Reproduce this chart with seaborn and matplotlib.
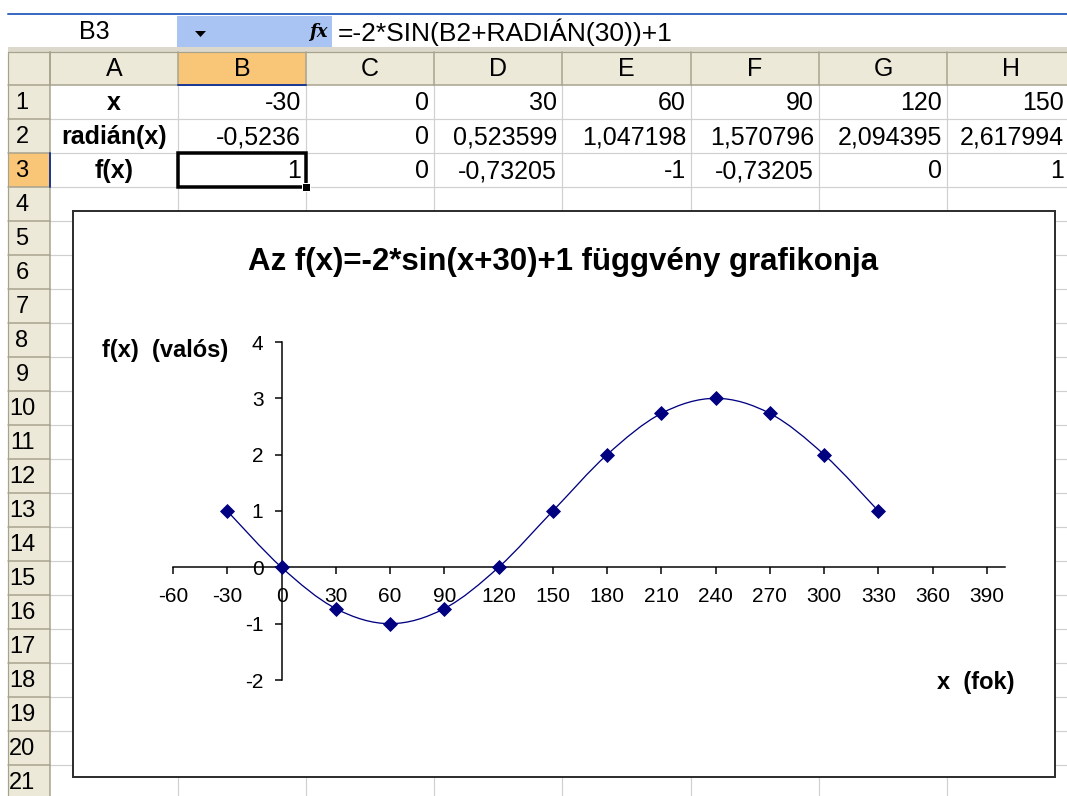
import numpy as np
import matplotlib
matplotlib.use("Agg")
import matplotlib.pyplot as plt
import seaborn as sns
from matplotlib.path import Path
from matplotlib.patches import PathPatch, Rectangle, Polygon

# ---------------- data ----------------
x_deg = [-30, 0, 30, 60, 90, 120, 150, 180, 210, 240, 270, 300, 330]
f_vals = [1, 0, -0.73205, -1, -0.73205, 0, 1, 2, 2.73205, 3, 2.73205, 2, 1]
x_ticks = [-60, -30, 0, 30, 60, 90, 120, 150, 180, 210, 240, 270, 300, 330, 360, 390]
y_ticks = [-2, -1, 0, 1, 2, 3, 4]
col_letters = ["A", "B", "C", "D", "E", "F", "G", "H"]
row_labels = ["x", "radián(x)", "f(x)"]
row1_cells = ["-30", "0", "30", "60", "90", "120", "150"]
row2_cells = ["-0,5236", "0", "0,523599", "1,047198", "1,570796", "2,094395", "2,617994"]
row3_cells = ["1", "0", "-0,73205", "-1", "-0,73205", "0", "1"]
title = "Az f(x)=-2*sin(x+30)+1 függvény grafikonja"
ylabel = "f(x)  (valós)"
xlabel = "x  (fok)"
name_box = "B3"
formula = "=-2*SIN(B2+RADIÁN(30))+1"

# ---------------- style ----------------
sns.set_theme(style="white")
plt.rcParams['font.family'] = ['Liberation Sans', 'DejaVu Sans']
plt.rcParams['text.color'] = 'black'

W, H = 1067, 796
fig = plt.figure(figsize=(W / 100, H / 100), dpi=100)
fig.patch.set_facecolor("white")

PX = 0.72  # points per pixel
HDR = "#ECE9D8"
HDR_LINE = "#A7A28C"
GRID = "#D0D0D0"
ORANGE = "#F9C678"
NAVY = "#000080"

bg = fig.add_axes([0, 0, 1, 1])
bg.set_xlim(0, W)
bg.set_ylim(H, 0)
bg.axis("off")
bg.set_zorder(0)

col_x = [50, 178, 306, 434, 562, 691, 819, 947, 1075]
row_y = [85 + 34 * k for k in range(22)]

# formula bar
bg.plot([8, W], [14, 14], color="#3D6BC2", lw=2 * PX)
bg.add_patch(Rectangle((177, 15.5), 155, 31, fc="#A9C4F3", ec="none"))
bg.add_patch(Polygon([(195, 31), (206, 31), (200.5, 37)], closed=True, fc="black", ec="none"))
bg.text(318, 32, "fx", ha="center", va="center", fontsize=13, style="italic",
        fontweight="bold", family="DejaVu Serif", color="black")
bg.text(94, 32, name_box, ha="center", va="center", fontsize=18, color="black")
bg.text(338, 32, formula, ha="left", va="center", fontsize=19, color="black")
bg.add_patch(Rectangle((8, 47), W - 8, 5, fc="#DCD8CC", ec="none"))

# headers
bg.add_patch(Rectangle((8, 52), 42, H - 52, fc=HDR, ec="none"))
bg.add_patch(Rectangle((50, 52), W - 50, 33, fc=HDR, ec="none"))
bg.add_patch(Rectangle((178, 52), 128, 33, fc=ORANGE, ec="none"))
bg.add_patch(Rectangle((8, row_y[2]), 42, 34, fc=ORANGE, ec="none"))

# grid lines
for cx in col_x[1:]:
    bg.plot([cx, cx], [85, H], color=GRID, lw=1.2 * PX)
for ry in row_y[1:]:
    bg.plot([50, W], [ry, ry], color=GRID, lw=1.2 * PX)

# header separators
for cx in col_x:
    bg.plot([cx, cx], [52, 85], color=HDR_LINE, lw=1.5 * PX)
bg.plot([8, W], [52, 52], color=HDR_LINE, lw=1.2 * PX)
bg.plot([8, W], [85, 85], color=HDR_LINE, lw=1.5 * PX)
for ry in row_y[1:]:
    bg.plot([8, 50], [ry, ry], color=HDR_LINE, lw=1.5 * PX)
bg.plot([50, 50], [52, H], color=HDR_LINE, lw=1.5 * PX)
bg.plot([8, 8], [52, H], color=HDR_LINE, lw=1.2 * PX)

# selection accents
bg.plot([178, 306], [85, 85], color="#1F3A93", lw=2 * PX)
bg.plot([50, 50], [row_y[2], row_y[3]], color="#1F3A93", lw=2 * PX)

# column letters and row numbers
for i, letter in enumerate(col_letters):
    bg.text((col_x[i] + col_x[i + 1]) / 2, 69, letter, ha="center", va="center", fontsize=18)
for k in range(21):
    bg.text(22, (row_y[k] + row_y[k + 1]) / 2 + 1, str(k + 1), ha="center", va="center", fontsize=17)

# cells (last column kept just inside the picture edge)
right_edges = [col_x[c + 2] - 5 for c in range(6)] + [W - 3]
for r, (lab, cells) in enumerate(zip(row_labels, [row1_cells, row2_cells, row3_cells])):
    cy = (row_y[r] + row_y[r + 1]) / 2 + 1
    bg.text((col_x[0] + col_x[1]) / 2, cy, lab, ha="center", va="center", fontsize=18,
            fontweight="bold")
    for c, val in enumerate(cells):
        bg.text(right_edges[c], cy, val, ha="right", va="center", fontsize=18)

# selected cell border + fill handle
bg.add_patch(Rectangle((178, row_y[2]), 128, 34, fill=False, ec="black", lw=3.5 * PX, zorder=3))
bg.add_patch(Rectangle((302, row_y[3] - 4), 8, 8, fc="black", ec="white", lw=1 * PX, zorder=3))

# chart box
bg.add_patch(Rectangle((73, 211), 982, 566, fc="white", ec="#303030", lw=2 * PX, zorder=4))
bg.text(563, 262, title, ha="center", va="center", fontsize=22.5, fontweight="bold", zorder=5)
bg.text(102, 350, ylabel, ha="left", va="center", fontsize=17, fontweight="bold", zorder=5)
bg.text(937, 682, xlabel, ha="left", va="center", fontsize=17, fontweight="bold", zorder=5)

# ---------------- chart ----------------
ax = fig.add_axes([173 / W, (H - 680) / H, 832 / W, 338 / H])
ax.set_zorder(1)
ax.patch.set_alpha(0)
ax.set_xlim(-60, 400)
ax.set_ylim(-2, 4)

# smoothed line (Excel style Bezier through the data points)
pts = np.column_stack([x_deg, f_vals]).astype(float)
n = len(pts)
verts = [tuple(pts[0])]
codes = [Path.MOVETO]
for i in range(n - 1):
    p_prev = pts[max(i - 1, 0)]
    p0, p1 = pts[i], pts[i + 1]
    p_next = pts[min(i + 2, n - 1)]
    c1 = p0 + (p1 - p_prev) / 6.0
    c2 = p1 - (p_next - p0) / 6.0
    verts += [tuple(c1), tuple(c2), tuple(p1)]
    codes += [Path.CURVE4] * 3
ax.add_patch(PathPatch(Path(verts, codes), fc="none", ec=NAVY, lw=1.3 * PX, zorder=4,
                       clip_on=False))

sns.scatterplot(x=x_deg, y=f_vals, marker="D", s=50, color=NAVY, edgecolor=NAVY,
                linewidth=0.6, ax=ax, zorder=6, clip_on=False, legend=False)

for side in ["top", "right"]:
    ax.spines[side].set_visible(False)
ax.spines["left"].set_position(("data", 0))
ax.spines["bottom"].set_position(("data", 0))
for side in ["left", "bottom"]:
    ax.spines[side].set_color("black")
    ax.spines[side].set_linewidth(1.5 * PX)

ax.set_xticks(x_ticks)
ax.set_yticks(y_ticks)
ax.set_xticklabels([str(v) for v in x_ticks])
ax.set_yticklabels([str(v) for v in y_ticks])
ax.tick_params(axis="both", which="major", direction="out", length=7 * PX, width=1.5 * PX,
               colors="black", labelsize=15, bottom=True, left=True, top=False, right=False)
ax.tick_params(axis="x", pad=9)
ax.tick_params(axis="y", pad=8)
ax.set_xlabel("")
ax.set_ylabel("")
ax.grid(False)

fig.savefig("out.png", dpi=100, facecolor="white")
